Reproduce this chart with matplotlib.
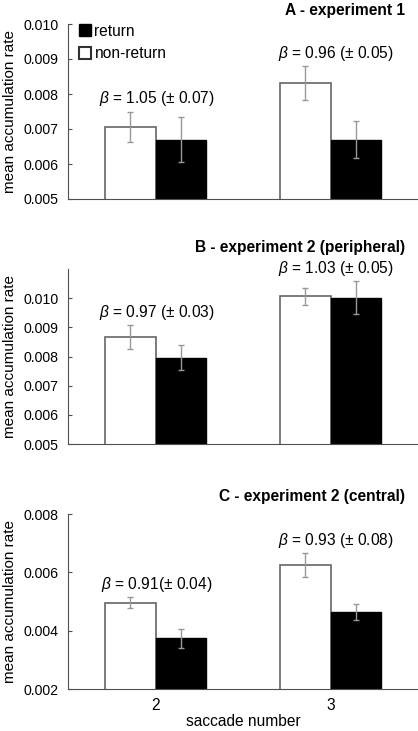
import matplotlib
matplotlib.use('Agg')
from matplotlib import pyplot as plt
from matplotlib.patches import Patch
import numpy as np

plt.rcParams['font.family'] = ['Liberation Sans', 'DejaVu Sans']
plt.rcParams['font.size'] = 11.2
plt.rcParams['mathtext.fontset'] = 'custom'
plt.rcParams['mathtext.rm'] = 'Liberation Sans'
plt.rcParams['mathtext.it'] = 'Liberation Sans:italic'

# data
saccades = ['2', '3']
titles = ['A - experiment 1', 'B - experiment 2 (peripheral)', 'C - experiment 2 (central)']

nonreturn_mean = [[0.00707, 0.00832], [0.00868, 0.01006], [0.00497, 0.00625]]
nonreturn_err = [[0.00043, 0.00048], [0.00041, 0.00029], [0.00020, 0.00040]]
return_mean = [[0.00670, 0.00669], [0.00796, 0.01002], [0.00374, 0.00465]]
return_err = [[0.00065, 0.00053], [0.00043, 0.00056], [0.00034, 0.00028]]

beta_text = [['1.05 (± 0.07)', '0.96 (± 0.05)'],
             ['0.97 (± 0.03)', '1.03 (± 0.05)'],
             ['0.91(± 0.04)', '0.93 (± 0.08)']]

ylims = [(0.005, 0.010), (0.005, 0.011), (0.002, 0.008)]
yticks = [np.arange(0.005, 0.0101, 0.001), np.arange(0.005, 0.0101, 0.001),
          np.arange(0.002, 0.0081, 0.002)]

W, H = 418, 731
fig = plt.figure(figsize=(W / 100, H / 100), dpi=100)

# axes boxes in pixels: top, bottom
boxes = [(24, 199), (269, 444), (514, 689.3)]
title_y = [10, 247, 497]

barWidth = 0.29
x = np.arange(len(saccades))
axis_col = '#505050'

for i in range(3):
    top, bot = boxes[i]
    ax = fig.add_axes([68 / W, 1 - bot / H, 1 - 68 / W, (bot - top) / H])

    ax.bar(x - barWidth / 2, nonreturn_mean[i], width=barWidth, color='white',
           edgecolor='#666666', linewidth=1.2, zorder=2)
    ax.bar(x + barWidth / 2, return_mean[i], width=barWidth, color='black',
           edgecolor='black', linewidth=1.0, zorder=2)
    ax.errorbar(x - barWidth / 2, nonreturn_mean[i], yerr=nonreturn_err[i], fmt='none',
                ecolor='#999999', elinewidth=1, capsize=2, zorder=3)
    ax.errorbar(x + barWidth / 2, return_mean[i], yerr=return_err[i], fmt='none',
                ecolor='#999999', elinewidth=1, capsize=2, zorder=3)

    # beta annotations above the highest error bar of each pair
    for j in range(len(saccades)):
        ytop = max(nonreturn_mean[i][j] + nonreturn_err[i][j],
                   return_mean[i][j] + return_err[i][j])
        ax.annotate(r'$\beta$ = ' + beta_text[i][j], xy=(x[j] + (0.01 if j == 0 else 0.03), ytop),
                    xytext=(0, 9), textcoords='offset points', ha='center', va='center')

    ax.set_xlim(-0.5, 1.5)
    ax.set_ylim(*ylims[i])
    ax.set_yticks(yticks[i])
    ax.set_yticklabels(['%.3f' % v for v in yticks[i]])
    ax.spines['top'].set_visible(False)
    ax.spines['right'].set_visible(False)
    ax.spines['left'].set_color(axis_col)
    ax.spines['bottom'].set_color(axis_col)
    ax.tick_params(axis='y', direction='in', length=3, color=axis_col, pad=6.5,
                   labelsize=10.2)
    ax.set_ylabel('mean accumulation rate', labelpad=5, fontsize=11)
    if i == 2:
        ax.set_xticks(x)
        ax.set_xticklabels(saccades)
        ax.tick_params(axis='x', length=0, pad=6)
        ax.set_xlabel('saccade number', labelpad=1)
    else:
        ax.set_xticks([])

    fig.text(405 / W, 1 - title_y[i] / H, titles[i], ha='right', va='center',
             fontweight='bold')

    if i == 0:
        handles = [Patch(facecolor='black', edgecolor='black'),
                   Patch(facecolor='white', edgecolor='#333333', linewidth=1.5)]
        ax.legend(handles, ['return', 'non-return'], loc='upper left',
                  bbox_to_anchor=(0.0, 1.065), frameon=False, handlelength=0.8,
                  handleheight=0.8, handletextpad=0.2, labelspacing=0.5,
                  borderaxespad=0.3)

plt.savefig('out.png', dpi=100)
